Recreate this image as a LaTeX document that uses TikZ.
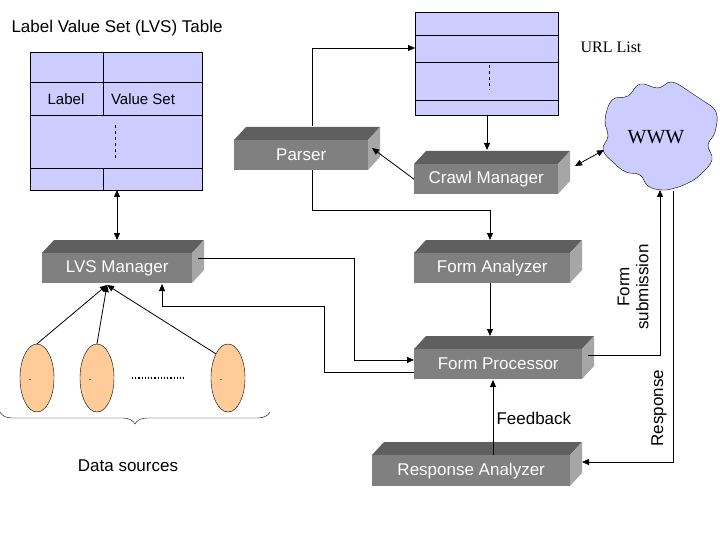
\documentclass[tikz,border=0pt]{standalone}
\usepackage{fontspec}
\setmainfont{Liberation Sans}
\newfontfamily\serifx{Liberation Serif}
\usetikzlibrary{arrows.meta,decorations.pathreplacing,shapes.geometric}
\definecolor{lav}{HTML}{CCCCFF}
\definecolor{peach}{HTML}{FFCC99}
\definecolor{gfront}{HTML}{808080}
\definecolor{gtop}{HTML}{5F5F5F}
\definecolor{gside}{HTML}{A6A6A6}
\tikzset{
  txt/.style={font=\fontsize{17}{20}\selectfont},
  front/.style={fill=gfront,draw=none,text=white,font=\fontsize{17}{20}\selectfont,inner sep=0pt},
  ar/.style={-{Triangle[length=7pt,width=6pt]},line width=0.8pt},
  dar/.style={{Triangle[length=7pt,width=6pt]}-{Triangle[length=7pt,width=6pt]},line width=0.8pt},
}
\newcommand{\cubebox}[6]{% name x1 y1 x2 y2 text
  \fill[gtop] (#2,#3) -- (#2+12,#3-13) -- (#4+12,#3-13) -- (#4,#3) -- cycle;
  \fill[gside] (#4,#3) -- (#4+12,#3-13) -- (#4+12,#5-13) -- (#4,#5) -- cycle;
  \node[front,minimum width=#4-#2,minimum height=#5-#3,anchor=north west] (#1) at (#2,#3) {#6};
}
\begin{document}
\begin{tikzpicture}[x=1pt,y=-1pt]
\useasboundingbox (0,0) rectangle (720,540);
% LVS table
\node[txt,anchor=west] (lvst) at (8,28) {Label Value Set (LVS) Table};
\node[fill=lav,draw,minimum width=172,minimum height=138,anchor=north west,inner sep=0pt] (tab) at (30,52) {};
\draw (30,82) -- (202,82) (30,115) -- (202,115) (30,168) -- (202,168);
\draw (103,52) -- (103,115) (103,168) -- (103,190);
\draw[dashed] (115,125) -- (115,158);
\node[txt,font=\fontsize{15}{18}\selectfont] (lab) at (66,99) {Label};
\node[txt,font=\fontsize{15}{18}\selectfont] (vs) at (143,99) {Value Set};
% URL list
\node[fill=lav,draw,minimum width=143,minimum height=103,anchor=north west,inner sep=0pt] (url) at (415,12) {};
\draw (415,35) -- (558,35) (415,62) -- (558,62) (415,100) -- (558,100);
\draw[dashed] (489,65) -- (489,90);
\node[font=\serifx\fontsize{16}{19}\selectfont,anchor=west] (urll) at (577,47) {URL List};
% cloud
\draw[fill=lav] plot[smooth cycle,tension=0.7] coordinates {
 (605,120) (612,100) (628,96) (640,84) (658,88) (672,82) (690,92) (702,100) (716,112) (715,132) (708,145) (712,160) (700,175) (688,183) (675,188) (662,190) (648,186) (640,175) (626,172) (614,163) (603,150) (608,136)};
\node[font=\serifx\fontsize{20}{24}\selectfont] (wwwt) at (656,137) {WWW};
% boxes
\cubebox{parser}{234}{140}{368}{170}{Parser}
\cubebox{crawl}{414}{164}{558}{194}{Crawl Manager}
\cubebox{fa}{414}{253}{570}{283}{Form Analyzer}
\cubebox{fp}{414}{349}{582}{379}{Form Processor}
\cubebox{ra}{372}{455}{570}{486}{Response Analyzer}
\cubebox{lvs}{42}{253}{192}{283}{LVS Manager}
% ellipses
\foreach \n/\x in {e1/37,e2/97,e3/228}{
  \node[ellipse,draw,fill=peach,minimum width=34,minimum height=68,inner sep=0pt] (\n) at (\x,378) {};
  \draw (\x-8,380) -- (\x-6,379);
}
\draw[dotted,line width=1.2pt] (132,378) -- (186,378);
\draw[decorate,decoration={brace,mirror,amplitude=12pt}] (0,412) -- (270,412);
\node[txt] (ds) at (128,466) {Data sources};
% connectors
\coordinate (lt) at (107,285);
\draw[ar] (e1.north) -- (lt);
\draw[ar] (e2.north) -- (lt);
\draw[ar] (e3.north west) -- (lt);
\draw[dar] (117,190) -- (117,240);
\draw[ar] (487,115) -- (487,150);
\draw[ar] (crawl.west) -- (372,148);
\draw[ar] (312,126) -- (312,48) -- (415,48);
\draw[ar] (312,170) -- (312,210) -- (490,210) -- (490,240);
\draw[dar] (575,166) -- (604,150);
\draw[ar] (490,283) -- (490,336);
\draw[ar] (198,258) -- (354,258) -- (354,360) -- (414,360);
\draw[ar] (414,372) -- (324,372) -- (324,306) -- (162,306) -- (162,284);
\draw[ar] (588,355) -- (660,355) -- (660,190);
\draw[ar] (673,191) -- (673,462) -- (582,462);
\draw[ar] (493,455) -- (493,380);
\node[txt,anchor=west] (fb) at (493,418) {Feedback};
\node[txt,rotate=90,align=center,font=\fontsize{17}{19}\selectfont] (fs) at (633,287) {Form\\submission};
\node[txt,rotate=90] (resp) at (659,408) {Response};
\end{tikzpicture}
\end{document}
